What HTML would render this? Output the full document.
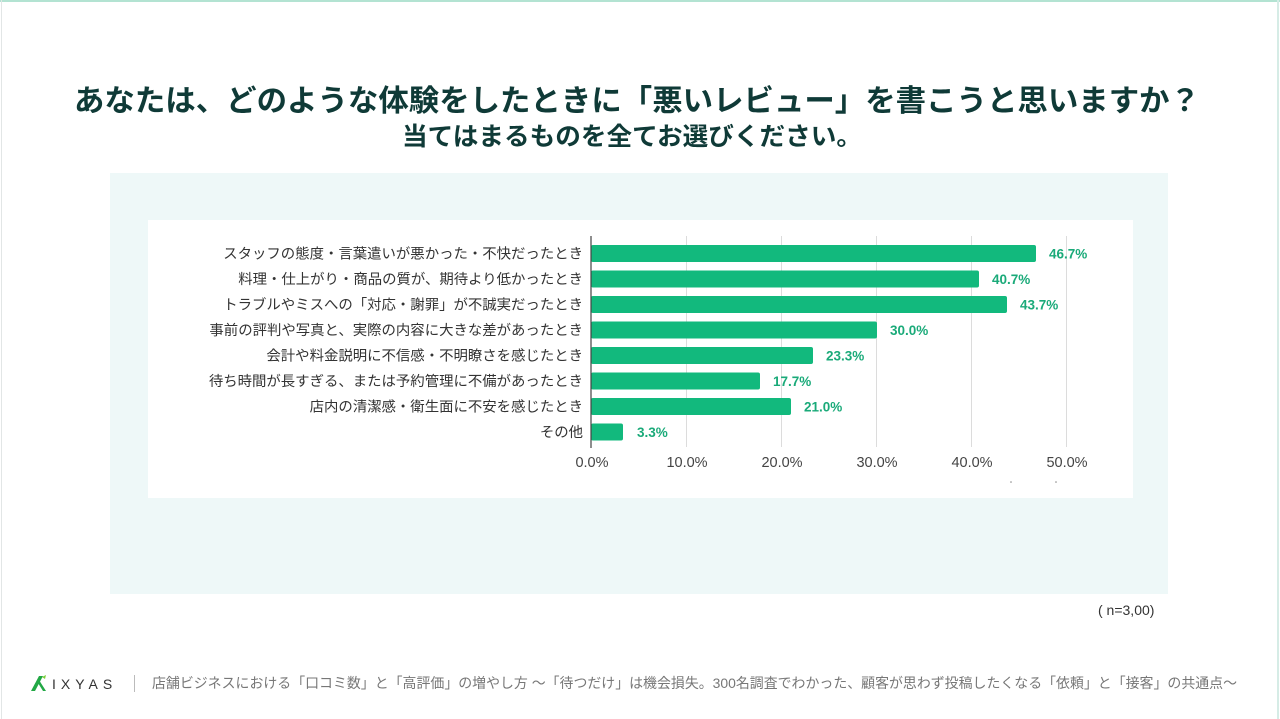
<!DOCTYPE html>
<html><head><meta charset="utf-8"><style>
html,body{margin:0;padding:0;background:#fff;}
body{width:1280px;height:719px;overflow:hidden;position:relative;font-family:"Liberation Sans","Noto Sans CJK JP",sans-serif;}
svg{position:absolute;left:0;top:0;}
</style></head><body>
<svg width="1280" height="719" viewBox="0 0 1280 719" xmlns="http://www.w3.org/2000/svg" font-family="Liberation Sans, Noto Sans CJK JP, sans-serif">
  <!-- page frame -->
  <rect x="0" y="0" width="1280" height="719" fill="#fff"/>
  <rect x="0" y="0" width="1280" height="2" fill="#b3e3d2"/>
  <rect x="1" y="0" width="1" height="719" fill="#e2e6e6"/>
  <rect x="1277" y="0" width="2" height="719" fill="#d6ece6"/>

  <!-- title -->
  <text x="637" y="111" text-anchor="middle" font-size="30" font-weight="bold" fill="#0f3a37" textLength="1126" lengthAdjust="spacingAndGlyphs">あなたは、どのような体験をしたときに「悪いレビュー」を書こうと思いますか？</text>
  <text x="632" y="145" text-anchor="middle" font-size="25" font-weight="bold" fill="#0f3a37" textLength="460" lengthAdjust="spacingAndGlyphs">当てはまるものを全てお選びください。</text>

  <!-- panels -->
  <rect x="110" y="173" width="1058" height="421" fill="#eef8f8"/>
  <rect x="148" y="220" width="985" height="278" fill="#ffffff"/>

  <!-- gridlines -->
  <g stroke="#dcdcdc" stroke-width="1">
    <line x1="686.5" y1="236" x2="686.5" y2="447"/>
    <line x1="781.5" y1="236" x2="781.5" y2="447"/>
    <line x1="876.5" y1="236" x2="876.5" y2="447"/>
    <line x1="971.5" y1="236" x2="971.5" y2="447"/>
    <line x1="1066.5" y1="236" x2="1066.5" y2="447"/>
  </g>

  <!-- bars -->
  <g fill="#12b97d">
    <rect x="591" y="245" width="445" height="17" rx="2"/>
    <rect x="591" y="270.5" width="388" height="17" rx="2"/>
    <rect x="591" y="296" width="416" height="17" rx="2"/>
    <rect x="591" y="321.5" width="286" height="17" rx="2"/>
    <rect x="591" y="347" width="222" height="17" rx="2"/>
    <rect x="591" y="372.5" width="169" height="17" rx="2"/>
    <rect x="591" y="398" width="200" height="17" rx="2"/>
    <rect x="591" y="423.5" width="32" height="17" rx="2"/>
  </g>
  <line x1="591" y1="236" x2="591" y2="448" stroke="#444" stroke-width="1.2"/>

  <!-- category labels -->
  <g font-size="14.4" fill="#333" text-anchor="end">
    <text x="583" y="258.5">スタッフの態度・言葉遣いが悪かった・不快だったとき</text>
    <text x="583" y="284">料理・仕上がり・商品の質が、期待より低かったとき</text>
    <text x="583" y="309.5">トラブルやミスへの「対応・謝罪」が不誠実だったとき</text>
    <text x="583" y="335">事前の評判や写真と、実際の内容に大きな差があったとき</text>
    <text x="583" y="360.5">会計や料金説明に不信感・不明瞭さを感じたとき</text>
    <text x="583" y="386">待ち時間が長すぎる、または予約管理に不備があったとき</text>
    <text x="583" y="411.5">店内の清潔感・衛生面に不安を感じたとき</text>
    <text x="583" y="437">その他</text>
  </g>

  <!-- value labels -->
  <g font-size="13.5" font-weight="bold" fill="#1aaa79">
    <text x="1049" y="258.5">46.7%</text>
    <text x="992" y="284">40.7%</text>
    <text x="1020" y="309.5">43.7%</text>
    <text x="890" y="335">30.0%</text>
    <text x="826" y="360.5">23.3%</text>
    <text x="773" y="386">17.7%</text>
    <text x="804" y="411.5">21.0%</text>
    <text x="637" y="437">3.3%</text>
  </g>

  <!-- x tick labels -->
  <g font-size="14.5" fill="#444" text-anchor="middle">
    <text x="592" y="467">0.0%</text>
    <text x="687" y="467">10.0%</text>
    <text x="782" y="467">20.0%</text>
    <text x="877" y="467">30.0%</text>
    <text x="972" y="467">40.0%</text>
    <text x="1067" y="467">50.0%</text>
  </g>
  <circle cx="1011" cy="482" r="0.8" fill="#888"/>
  <circle cx="1056" cy="482" r="0.8" fill="#888"/>

  <!-- n -->
  <text x="1098" y="615" font-size="14" fill="#333">( n=3,00)</text>

  <!-- footer -->
  <g>
    <path d="M31 691 L39 676 L43 676 L35 691 Z" fill="#22a845"/>
    <path d="M39 680 L46 691 L43 691 L38 683 Z" fill="#22a845"/>
    <path d="M42 677 L46 675 L45 679 Z" fill="#7ccf3a"/>
  </g>
  <text x="52" y="689" font-size="14" fill="#333" letter-spacing="5">IXYAS</text>
  <line x1="134.5" y1="675" x2="134.5" y2="692" stroke="#bbb" stroke-width="1"/>
  <text x="152" y="688" font-size="14" fill="#777" textLength="1085" lengthAdjust="spacingAndGlyphs">店舗ビジネスにおける「口コミ数」と「高評価」の増やし方 ～「待つだけ」は機会損失。300名調査でわかった、顧客が思わず投稿したくなる「依頼」と「接客」の共通点～</text>
</svg>
</body></html>
